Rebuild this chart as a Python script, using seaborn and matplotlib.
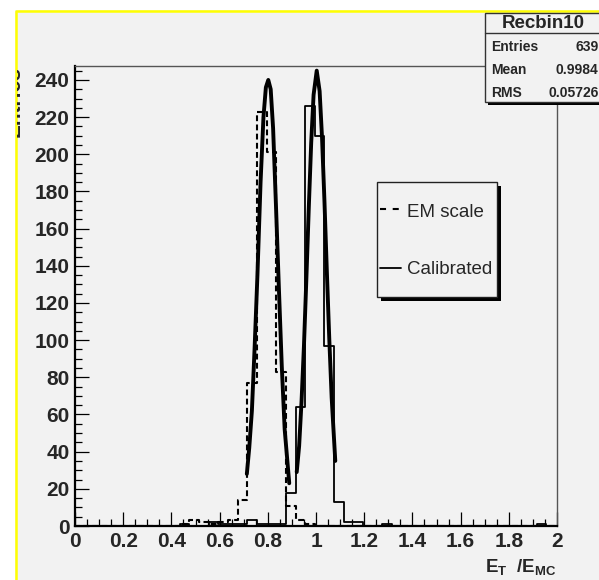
import numpy as np
import pandas as pd
import matplotlib
matplotlib.use("Agg")
import matplotlib.pyplot as plt
import seaborn as sns
from matplotlib.patches import Rectangle
from matplotlib.lines import Line2D
from matplotlib.ticker import MultipleLocator

# ---------------- data ----------------
bin_width = 0.04
bin_start = -0.005
n_bins = 50
em_counts = [0, 0, 0, 0, 0, 0, 0, 0, 0, 0,
             0, 1, 3, 2, 1, 2, 3, 14, 77, 223,
             201, 83, 11, 3, 1, 0, 0, 0, 0, 0,
             0, 0, 0, 0, 0, 0, 0, 0, 0, 0,
             0, 0, 0, 0, 0, 0, 0, 0, 0, 0]
cal_counts = [0, 0, 0, 0, 0, 0, 0, 0, 0, 0,
              0, 1, 0, 0, 2, 1, 1, 1, 3, 1,
              1, 1, 18, 64, 226, 210, 97, 13, 2, 2,
              0, 0, 1, 0, 0, 0, 0, 0, 0, 0,
              0, 0, 0, 0, 0, 0, 0, 0, 1, 0]
em_fit_x = [0.713, 0.723, 0.734, 0.745, 0.757, 0.770, 0.782, 0.792, 0.802,
            0.812, 0.822, 0.834, 0.846, 0.858, 0.870, 0.889]
em_fit_y = [28, 42, 62, 95, 135, 185, 220, 236, 240, 235, 214, 172, 128, 86, 52, 23]
cal_fit_x = [0.920, 0.930, 0.940, 0.950, 0.960, 0.970, 0.980, 0.990, 1.003,
             1.015, 1.025, 1.035, 1.045, 1.055, 1.065, 1.080]
cal_fit_y = [29, 43, 67, 97, 133, 171, 206, 232, 245, 234, 209, 175, 137, 101, 69, 35]
x_tick_values = [0, 0.2, 0.4, 0.6, 0.8, 1.0, 1.2, 1.4, 1.6, 1.8, 2.0]
x_tick_labels = ["0", "0.2", "0.4", "0.6", "0.8", "1", "1.2", "1.4", "1.6", "1.8", "2"]
y_tick_values = [0, 20, 40, 60, 80, 100, 120, 140, 160, 180, 200, 220, 240]
y_tick_labels = [str(v) for v in y_tick_values]
legend_labels = ["EM scale", "Calibrated"]
stats_title = "Recbin10"
stats_names = ["Entries", "Mean", "RMS"]
stats_values = ["639", "0.9984", "0.05726"]
x_label = r"E$_{T}$  /E$_{MC}$"
y_label = "Entries"

bin_edges = [round(bin_start + bin_width * i, 4) for i in range(n_bins + 1)]
bin_centers = [e + bin_width / 2 for e in bin_edges[:-1]]
df_em = pd.DataFrame({"center": bin_centers, "count": em_counts})
df_cal = pd.DataFrame({"center": bin_centers, "count": cal_counts})
df_em_fit = pd.DataFrame({"x": em_fit_x, "y": em_fit_y})
df_cal_fit = pd.DataFrame({"x": cal_fit_x, "y": cal_fit_y})

# ---------------- style ----------------
sns.set_theme(style="ticks")
plt.rcParams.update({
    "font.family": ["Liberation Sans", "DejaVu Sans"],
    "font.weight": "bold",
    "mathtext.fontset": "custom",
    "mathtext.rm": "Liberation Sans:bold",
    "mathtext.it": "Liberation Sans:bold",
    "mathtext.bf": "Liberation Sans:bold",
    "mathtext.default": "regular",
})

W, H = 599, 580
PAD = "#f2f2f2"
fig = plt.figure(figsize=(W / 100, H / 100), dpi=100, facecolor="white")


def fx(x):
    return x / W


def fy(y):
    return 1 - y / H


# canvas pad with yellow border (top and left)
pad_rect = Rectangle((fx(15), 0), 1 - fx(15), fy(10), transform=fig.transFigure,
                     facecolor=PAD, edgecolor="none", zorder=-10)
fig.add_artist(pad_rect)
fig.add_artist(Line2D([fx(15.5), fx(15.5), 1.01], [-0.01, fy(10.5), fy(10.5)],
                      transform=fig.transFigure, color="#ffff00", lw=1.8, zorder=-9))

ax = fig.add_axes([fx(75), fy(526), (557 - 75) / W, (526 - 66) / H])
ax.set_facecolor(PAD)

dash_hist = (0, (2.8, 1.6))
sns.histplot(data=df_em, x="center", weights="count", bins=bin_edges,
             element="step", fill=False, color="black", linewidth=1.5,
             linestyle=dash_hist, ax=ax)
sns.histplot(data=df_cal, x="center", weights="count", bins=bin_edges,
             element="step", fill=False, color="black", linewidth=1.3, ax=ax)
sns.lineplot(data=df_em_fit, x="x", y="y", color="black", linewidth=2.8,
             sort=False, estimator=None, ax=ax)
sns.lineplot(data=df_cal_fit, x="x", y="y", color="black", linewidth=2.8,
             sort=False, estimator=None, ax=ax)

ax.set_xlim(0, 2)
ax.set_ylim(0, 247.5)
ax.set_xticks(x_tick_values, labels=x_tick_labels)
ax.set_yticks(y_tick_values, labels=y_tick_labels)
ax.xaxis.set_minor_locator(MultipleLocator(0.05))
ax.yaxis.set_minor_locator(MultipleLocator(5))
ax.tick_params(which="both", direction="in", top=False, right=False, color="black")
ax.tick_params(which="major", length=10, width=0.9, labelsize=15, pad=4)
ax.tick_params(which="minor", length=5, width=0.9)
for lab in ax.get_xticklabels() + ax.get_yticklabels():
    lab.set_fontweight("bold")

for side in ["left", "bottom"]:
    ax.spines[side].set_color("black")
    ax.spines[side].set_linewidth(1.6)
for side in ["top", "right"]:
    ax.spines[side].set_visible(True)
    ax.spines[side].set_color("#555555")
    ax.spines[side].set_linewidth(1.0)

ax.set_xlabel(x_label, fontsize=13.5, fontweight="bold", ha="right", va="top")
ax.xaxis.set_label_coords(1.0, -31 / 460)
ax.set_ylabel(y_label, fontsize=15, fontweight="bold", ha="right", va="bottom")
ax.yaxis.set_label_coords((24 - 75) / 482, 1.0)
clip_rect = Rectangle((fx(16.5), 0), 1, fy(11.5), transform=fig.transFigure,
                      facecolor="none", edgecolor="none")
ax.yaxis.label.set_clip_path(clip_rect)
ax.yaxis.label.set_clip_on(True)

# ---------------- stats box ----------------
fig.add_artist(Rectangle((fx(488), fy(104.5)), 1, fy(15.5) - fy(104.5),
                         transform=fig.transFigure, facecolor="black",
                         edgecolor="none", zorder=5))
fig.add_artist(Rectangle((fx(485), fy(101.7)), 1, fy(12.7) - fy(101.7),
                         transform=fig.transFigure, facecolor=PAD,
                         edgecolor="#333333", lw=1.0, zorder=6))
fig.add_artist(Line2D([fx(485), 1.01], [fy(33.3), fy(33.3)], transform=fig.transFigure,
                      color="#333333", lw=1.0, zorder=7))
fig.text(fx(543.5), fy(23), stats_title, ha="center", va="center",
         fontsize=13.5, fontweight="bold", zorder=8)
for i, (nm, val) in enumerate(zip(stats_names, stats_values)):
    yy = [47, 70, 92.5][i]
    fig.text(fx(491.5), fy(yy), nm, ha="left", va="center", fontsize=10,
             fontweight="bold", zorder=8)
    fig.text(fx(598.5), fy(yy), val, ha="right", va="center", fontsize=10,
             fontweight="bold", zorder=8)

# ---------------- legend ----------------
fig.add_artist(Rectangle((fx(380.7), fy(300.7)), (496.7 - 376.7) / W, (296.7 - 181.7) / H,
                         transform=fig.transFigure, facecolor="black",
                         edgecolor="none", zorder=5))
fig.add_artist(Rectangle((fx(376.7), fy(296.7)), (496.7 - 376.7) / W, (296.7 - 181.7) / H,
                         transform=fig.transFigure, facecolor=PAD,
                         edgecolor="#222222", lw=1.0, zorder=6))
fig.add_artist(Line2D([fx(380), fx(399.5)], [fy(209.3), fy(209.3)], transform=fig.transFigure,
                      color="black", lw=1.5, linestyle=(0, (2.9, 3.2)), zorder=7))
fig.add_artist(Line2D([fx(380), fx(401)], [fy(267.7), fy(267.7)], transform=fig.transFigure,
                      color="black", lw=1.3, zorder=7))
fig.text(fx(406.7), fy(212.5), legend_labels[0], ha="left", va="center",
         fontsize=13.5, fontweight="normal", zorder=8)
fig.text(fx(406.7), fy(269.5), legend_labels[1], ha="left", va="center",
         fontsize=13.5, fontweight="normal", zorder=8)

fig.savefig("out.png", dpi=100, facecolor="white")
